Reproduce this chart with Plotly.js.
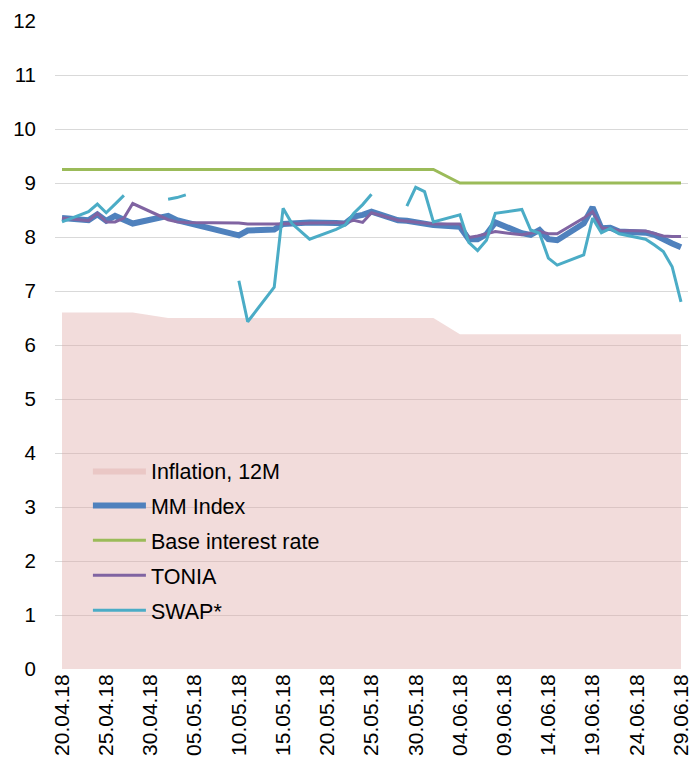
<!DOCTYPE html>
<html>
<head>
<meta charset="utf-8">
<script src="https://cdn.plot.ly/plotly-3.0.1.min.js"></script>
<style>
html,body{margin:0;padding:0;background:#fff;}
#chart{width:691px;height:770px;}
</style>
</head>
<body>
<div id="chart"></div>
<script>
const dates = [
'2018-04-20','2018-04-23','2018-04-24','2018-04-25','2018-04-26','2018-04-27','2018-04-28',
'2018-05-02','2018-05-03','2018-05-04','2018-05-05',
'2018-05-10','2018-05-11','2018-05-14','2018-05-15','2018-05-16','2018-05-17','2018-05-18',
'2018-05-21','2018-05-22','2018-05-23','2018-05-24','2018-05-25',
'2018-05-28','2018-05-29','2018-05-30','2018-05-31','2018-06-01',
'2018-06-04','2018-06-05','2018-06-06','2018-06-07','2018-06-08',
'2018-06-11','2018-06-12','2018-06-13','2018-06-14','2018-06-15',
'2018-06-18','2018-06-19','2018-06-20','2018-06-21','2018-06-22',
'2018-06-25','2018-06-26','2018-06-27','2018-06-28','2018-06-29'];

const inflation = [
6.6,6.6,6.6,6.6,6.6,6.6,6.6,
6.5,6.5,6.5,6.5,
6.5,6.5,6.5,6.5,6.5,6.5,6.5,
6.5,6.5,6.5,6.5,6.5,
6.5,6.5,6.5,6.5,6.5,
6.2,6.2,6.2,6.2,6.2,
6.2,6.2,6.2,6.2,6.2,
6.2,6.2,6.2,6.2,6.2,
6.2,6.2,6.2,6.2,6.2];

const baseRate = [
9.25,9.25,9.25,9.25,9.25,9.25,9.25,
9.25,9.25,9.25,9.25,
9.25,9.25,9.25,9.25,9.25,9.25,9.25,
9.25,9.25,9.25,9.25,9.25,
9.25,9.25,9.25,9.25,9.25,
9.0,9.0,9.0,9.0,9.0,
9.0,9.0,9.0,9.0,9.0,
9.0,9.0,9.0,9.0,9.0,
9.0,9.0,9.0,9.0,9.0];

const mmIndex = [
8.35,8.31,8.42,8.30,8.39,8.33,8.25,
8.39,8.31,8.27,null,
8.03,8.12,8.14,8.24,8.25,8.26,8.27,
8.26,8.25,8.38,8.41,8.47,
8.31,8.30,8.28,8.25,8.22,
8.19,7.96,7.96,8.05,8.27,
8.07,8.04,8.13,7.96,7.94,
8.25,8.55,8.16,8.17,8.10,
8.08,8.04,7.95,7.88,7.81];

const tonia = [
8.35,8.30,8.44,8.28,8.28,8.35,8.62,
8.32,8.28,8.27,null,
8.26,8.24,8.24,8.24,8.25,8.25,8.26,
8.26,8.27,8.31,8.27,8.45,
8.31,8.29,8.27,8.25,8.24,
8.24,7.99,8.02,8.06,8.10,
8.04,8.07,8.10,8.06,8.06,
8.35,8.47,8.17,8.15,8.12,
8.11,8.06,8.02,8.01,8.01];

const swap = [
8.28,8.47,8.61,8.45,8.61,8.77,null,
8.70,8.73,8.78,null,
7.19,6.43,7.07,8.53,8.25,8.10,7.96,
8.14,8.22,8.44,8.60,8.79,
null,8.57,8.92,8.84,8.28,
8.41,7.90,7.75,7.94,8.44,
8.51,8.13,8.07,7.61,7.48,
7.67,8.35,8.08,8.16,8.06,
7.96,7.85,7.73,7.45,6.80];

const yTicks = [0,1,2,3,4,5,6,7,8,9,10,11,12];

const traces = [
  {x: dates, y: inflation, name: 'Inflation, 12M', type: 'scatter', mode: 'lines',
   fill: 'tozeroy', fillcolor: 'rgba(222,167,165,0.4)', line: {width: 0, color: 'rgba(0,0,0,0)'},
   legendgroup: 'a'},
  {x: dates, y: mmIndex, name: 'MM Index', type: 'scatter', mode: 'lines', connectgaps: true,
   line: {color: '#4F81BD', width: 6}, legendgroup: 'b'},
  {x: dates, y: baseRate, name: 'Base interest rate', type: 'scatter', mode: 'lines',
   line: {color: '#9BBB59', width: 3}, legendgroup: 'c'},
  {x: dates, y: tonia, name: 'TONIA', type: 'scatter', mode: 'lines', connectgaps: true,
   line: {color: '#8064A2', width: 3}, legendgroup: 'd'},
  {x: dates, y: swap, name: 'SWAP*', type: 'scatter', mode: 'lines', connectgaps: false,
   line: {color: '#4BACC6', width: 3}, legendgroup: 'e'}
];

const layout = {
  width: 691, height: 770,
  margin: {l: 55, r: 3, t: 21, b: 101},
  paper_bgcolor: '#fff', plot_bgcolor: '#fff',
  font: {family: '"Liberation Sans", Arial, sans-serif', size: 20, color: '#000'},
  showlegend: true,
  legend: {x: 0.052, y: 0.338, xanchor: 'left', yanchor: 'top', bgcolor: 'rgba(0,0,0,0)',
           font: {size: 21.5, color: '#000'}, traceorder: 'grouped', tracegroupgap: 4,
           itemwidth: 53},
  xaxis: {type: 'date', range: ['2018-04-19 05:00', '2018-06-29 19:00'],
          tick0: '2018-04-20', dtick: 5*86400000, tickformat: '%d.%m.%y',
          tickangle: -90, showgrid: false, zeroline: false, showline: false,
          ticklabeloverflow: 'allow', automargin: false,
          ticks: '', tickfont: {size: 21, color: '#000'}, fixedrange: true},
  yaxis: {range: [0, 12], tickvals: yTicks, ticktext: yTicks.map(String),
          showgrid: true, gridcolor: '#D9D9D9', gridwidth: 1, zeroline: false,
          showline: false, ticks: '', ticklabelstandoff: 18, automargin: false,
          tickfont: {size: 20.5, color: '#000'}, fixedrange: true}
};

Plotly.newPlot('chart', traces, layout, {displayModeBar: false, staticPlot: true});
</script>
</body>
</html>
